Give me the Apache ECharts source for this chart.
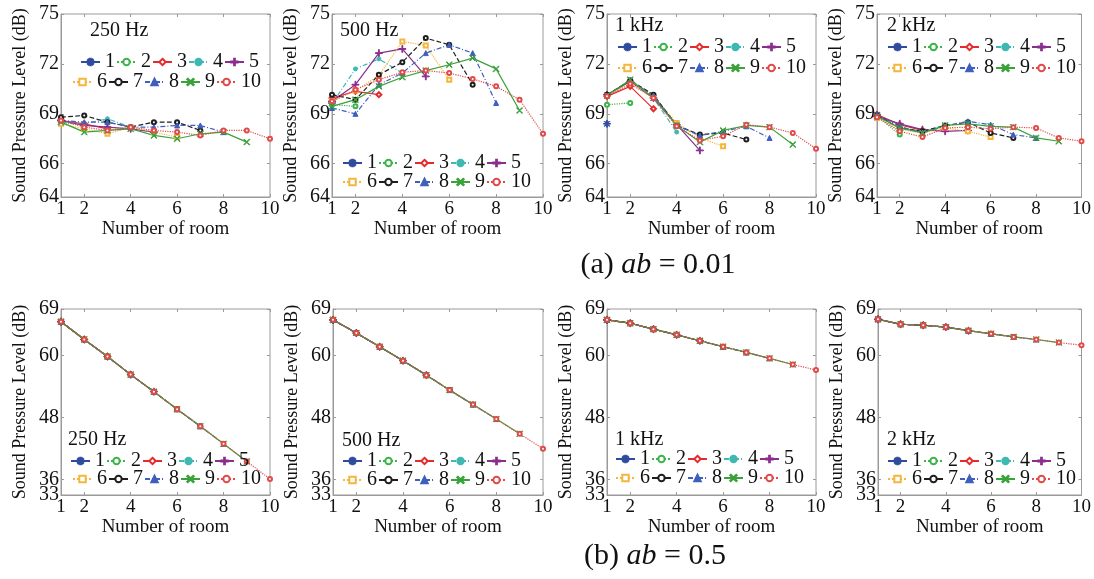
<!DOCTYPE html>
<html>
<head>
<meta charset="utf-8">
<script src="https://cdn.jsdelivr.net/npm/echarts@6/dist/echarts.min.js"></script>
<style>
  html, body { margin: 0; padding: 0; background: #fff; }
  #chart { width: 1094px; height: 579px; }
</style>
</head>
<body>
<div id="chart"></div>
<script>
// Room index on the x axis
const rooms = [1, 2, 3, 4, 5, 6, 7, 8, 9, 10];
const roomTicks = [1, 2, 4, 6, 8, 10];

// Series names: building with N rooms (series N has N points)
const seriesNames = ['1', '2', '3', '4', '5', '6', '7', '8', '9', '10'];

// ab = 0.01 : SPL (dB) per building size, one inner list per series
const a001_250Hz = [
  [68.6],
  [68.5, 68.3],
  [68.6, 68.4, 68.1],
  [68.5, 68.4, 68.7, 68.2],
  [68.6, 68.3, 68.2, 68.1, 67.9],
  [68.4, 68.1, 67.8, 68.2, 67.9, 67.6],
  [68.8, 68.9, 68.5, 68.2, 68.5, 68.5, 68.0],
  [68.6, 68.5, 68.5, 68.2, 68.2, 68.3, 68.3, 67.9],
  [68.5, 67.9, 68.0, 68.1, 67.7, 67.5, 67.8, 67.9, 67.3],
  [68.6, 68.2, 68.0, 68.2, 68.0, 67.9, 67.7, 68.0, 68.0, 67.5]
];
const a001_500Hz = [
  [69.65],
  [69.55, 69.45],
  [69.95, 70.35, 70.15],
  [69.6, 71.7, 72.3, 71.45],
  [69.75, 70.75, 72.65, 72.9, 71.25],
  [69.75, 70.4, 71.3, 73.35, 73.1, 71.05],
  [70.15, 69.85, 71.35, 72.1, 73.55, 73.15, 70.75],
  [69.35, 69.0, 70.75, 71.45, 72.65, 73.15, 72.65, 69.65],
  [69.45, 69.85, 70.65, 71.2, 71.6, 71.95, 72.35, 71.7, 69.2],
  [69.75, 70.45, 71.05, 71.5, 71.6, 71.45, 71.1, 70.65, 69.85, 67.8]
];
const a001_1kHz = [
  [68.4],
  [69.55, 69.65],
  [70.05, 70.65, 69.3],
  [70.15, 70.95, 69.95, 67.9],
  [70.15, 70.95, 69.95, 68.35, 66.8],
  [70.1, 70.9, 70.05, 68.45, 67.55, 67.05],
  [70.15, 71.0, 70.15, 68.3, 67.75, 67.85, 67.45],
  [70.1, 71.0, 70.1, 68.3, 67.7, 67.95, 68.25, 67.55],
  [70.1, 71.05, 69.95, 68.3, 67.3, 68.0, 68.3, 68.2, 67.15],
  [70.05, 70.8, 69.95, 68.25, 67.4, 67.65, 68.35, 68.2, 67.85, 66.9]
];
const a001_2kHz = [
  [68.95],
  [68.85, 67.75],
  [68.95, 68.35, 68.0],
  [68.9, 68.15, 67.95, 68.25],
  [68.85, 68.4, 68.05, 67.95, 68.0],
  [68.75, 68.05, 67.85, 68.15, 67.95, 67.6],
  [68.9, 68.15, 67.95, 68.3, 68.5, 67.85, 67.55],
  [68.95, 68.25, 67.85, 68.25, 68.55, 68.35, 67.75, 67.55],
  [68.85, 68.15, 67.85, 68.3, 68.4, 68.25, 68.2, 67.55, 67.35],
  [68.8, 67.95, 67.6, 68.15, 68.2, 68.1, 68.2, 68.15, 67.55, 67.35]
];

// ab = 0.5 : all building sizes give the same SPL per room
const b05_250Hz = [66.55, 63.1, 59.8, 56.3, 53.0, 49.6, 46.3, 42.9, 39.5, 36.1];
const b05_500Hz = [66.9, 64.35, 61.7, 59.0, 56.2, 53.3, 50.5, 47.7, 44.85, 41.95];
const b05_1kHz = [66.9, 66.25, 65.1, 64.0, 62.85, 61.7, 60.6, 59.45, 58.25, 57.2];
const b05_2kHz = [67.0, 66.05, 65.85, 65.5, 64.8, 64.2, 63.6, 63.1, 62.5, 62.0];

// Y axis ranges and tick labels
const yTicksA = [64, 66, 69, 72, 75];
const yTicksB = [33, 36, 48, 60, 69];

const bandLabels = ['250 Hz', '500 Hz', '1 kHz', '2 kHz'];

// ---- styles ----
const STAR = 'path://M4.55,0H5.45V3.9L8.3,1.05L8.95,1.7L6.1,4.55H10V5.45H6.1L8.95,8.3L8.3,8.95L5.45,6.1V10H4.55V6.1L1.7,8.95L1.05,8.3L3.9,5.45H0V4.55H3.9L1.05,1.7L1.7,1.05L4.55,3.9Z';
const PLUS = 'path://M4.4,0H5.6V4.4H10V5.6H5.6V10H4.4V5.6H0V4.4H4.4Z';
const CROSS = 'path://M0.8,0L5,4.2L9.2,0L10,0.8L5.8,5L10,9.2L9.2,10L5,5.8L0.8,10L0,9.2L4.2,5L0,0.8Z';
const seriesStyle = [
  { color: '#2f4b9e', type: 'solid', symbol: STAR, size: 7 },
  { color: '#3cb44b', type: 'dotted', symbol: 'emptyCircle', size: 4 },
  { color: '#e52b2b', type: 'solid', symbol: 'emptyDiamond', size: 5 },
  { color: '#3fb8b3', type: [5, 2, 1, 2], symbol: 'circle', size: 4 },
  { color: '#8b2d8f', type: 'solid', symbol: PLUS, size: 7 },
  { color: '#f4b63c', type: 'dotted', symbol: 'emptyRect', size: 4 },
  { color: '#1e1e1e', type: 'dashed', symbol: 'emptyCircle', size: 4 },
  { color: '#3f5fbf', type: [5, 2, 1, 2], symbol: 'triangle', size: 5 },
  { color: '#3aa23a', type: 'solid', symbol: CROSS, size: 6 },
  { color: '#e24a4a', type: 'dotted', symbol: 'emptyCircle', size: 4 }
];

const FONT = 'Liberation Serif';
const TEXT = '#111';
const AXIS_GRAY = '#9a9a9a';

// Panel layout: [left, top, width, height]; labelsAlt are labels set on a second
// overlaid axis so that close neighbours are both kept
const panels = [
  { box: [61, 14, 209, 183], ticks: yTicksA, labels: yTicksA, labelsAlt: [], series: a001_250Hz },
  { box: [332, 14, 211, 183], ticks: yTicksA, labels: yTicksA, labelsAlt: [], series: a001_500Hz },
  { box: [607, 14, 209, 183], ticks: yTicksA, labels: yTicksA, labelsAlt: [], series: a001_1kHz },
  { box: [877, 14, 212, 183], ticks: yTicksA, labels: yTicksA, labelsAlt: [], series: a001_2kHz },
  { box: [61, 309, 209, 186], ticks: yTicksB, labels: [33, 48, 60, 69], labelsAlt: [36], series: seriesNames.map((_, k) => b05_250Hz.slice(0, k + 1)) },
  { box: [333, 309, 210, 186], ticks: yTicksB, labels: [33, 48, 60, 69], labelsAlt: [36], series: seriesNames.map((_, k) => b05_500Hz.slice(0, k + 1)) },
  { box: [607, 309, 209, 186], ticks: yTicksB, labels: [33, 48, 60, 69], labelsAlt: [36], series: seriesNames.map((_, k) => b05_1kHz.slice(0, k + 1)) },
  { box: [878, 309, 211, 186], ticks: yTicksB, labels: [33, 48, 60, 69], labelsAlt: [36], series: seriesNames.map((_, k) => b05_2kHz.slice(0, k + 1)) }
];

// Legend rows [row1 left, row1 centre y, row2 left, row2 centre y] and band label [left, centre y]
const legendPos = [
  [80, 62, 72, 82], [342, 163, 342, 182], [617, 47, 617, 68], [887, 47, 887, 68],
  [70, 461, 72, 479], [342, 461, 342, 480], [615, 459, 615, 478], [887, 461, 887, 479]
];
const bandPos = [
  [90, 32], [340, 32], [615, 27], [887, 27],
  [68, 441], [342, 442], [615, 441], [887, 441]
];

const grid = [], xAxis = [], yAxis = [], series = [], legend = [], graphic = [];
const labelStyle = { fontFamily: FONT, fontSize: 20, color: TEXT, hideOverlap: false, showMinLabel: true, showMaxLabel: true };

panels.forEach((p, i) => {
  const [l, t, w, h] = p.box;
  grid.push({ left: l, top: t, width: w, height: h, show: true, borderColor: AXIS_GRAY, borderWidth: 1, backgroundColor: 'transparent' });
  const yMin = p.ticks[0], yMax = p.ticks[p.ticks.length - 1];

  // bottom x axis with labels
  const xIndex = xAxis.length;
  xAxis.push({
    type: 'value', gridIndex: i, min: 1, max: 10, position: 'bottom',
    name: 'Number of room', nameLocation: 'middle', nameGap: 23,
    nameTextStyle: { fontFamily: FONT, fontSize: 19, color: TEXT },
    axisLine: { show: true, lineStyle: { color: AXIS_GRAY } },
    axisTick: { show: true, inside: true, length: 3, customValues: roomTicks, lineStyle: { color: AXIS_GRAY } },
    axisLabel: Object.assign({ customValues: roomTicks, margin: 3 }, labelStyle, { fontSize: 19 }),
    splitLine: { show: false }
  });
  // top x axis: mirrored ticks only
  xAxis.push({
    type: 'value', gridIndex: i, min: 1, max: 10, position: 'top',
    axisLine: { show: false },
    axisTick: { show: true, inside: true, length: 3, customValues: roomTicks, lineStyle: { color: AXIS_GRAY } },
    axisLabel: { show: false },
    splitLine: { show: false }
  });

  const yIndex = yAxis.length;
  yAxis.push({
    type: 'value', gridIndex: i, min: yMin, max: yMax, position: 'left',
    name: 'Sound Pressure Level (dB)', nameLocation: 'middle', nameGap: 32, nameRotate: 90,
    nameTextStyle: { fontFamily: FONT, fontSize: 18, color: TEXT },
    axisLine: { show: true, lineStyle: { color: AXIS_GRAY } },
    axisTick: { show: true, inside: true, length: 3, customValues: p.ticks, lineStyle: { color: AXIS_GRAY } },
    axisLabel: Object.assign({ customValues: p.labels, margin: 2 }, labelStyle),
    splitLine: { show: false }
  });
  // right y axis: mirrored ticks only
  yAxis.push({
    type: 'value', gridIndex: i, min: yMin, max: yMax, position: 'right',
    axisLine: { show: false },
    axisTick: { show: true, inside: true, length: 3, customValues: p.ticks, lineStyle: { color: AXIS_GRAY } },
    axisLabel: { show: false },
    splitLine: { show: false }
  });
  if (p.labelsAlt.length) {
    yAxis.push({
      type: 'value', gridIndex: i, min: yMin, max: yMax, position: 'left', offset: 0,
      axisLine: { show: false }, axisTick: { show: false },
      axisLabel: Object.assign({ customValues: p.labelsAlt, margin: 2 }, labelStyle),
      splitLine: { show: false }
    });
  }

  p.series.forEach((vals, k) => {
    const st = seriesStyle[k];
    series.push({
      type: 'line', name: seriesNames[k],
      xAxisIndex: xIndex, yAxisIndex: yIndex,
      data: vals.map((v, j) => [rooms[j], v]),
      symbol: st.symbol, symbolSize: st.size, showSymbol: true,
      lineStyle: { color: st.color, width: 1.2, type: st.type },
      itemStyle: { color: st.color, borderColor: st.color, borderWidth: 1 },
      emphasis: { disabled: true },
      animation: false
    });
  });

  const lp = legendPos[i];
  const legendBase = {
    orient: 'horizontal', itemWidth: 19, itemHeight: 8, itemGap: 1, padding: 0,
    textStyle: { fontFamily: FONT, fontSize: 20, color: TEXT, lineHeight: 20 },
    selectedMode: false
  };
  legend.push(Object.assign({}, legendBase, { left: lp[0], top: lp[1] - 10, data: seriesNames.slice(0, 5) }));
  legend.push(Object.assign({}, legendBase, { left: lp[2], top: lp[3] - 10, data: seriesNames.slice(5) }));

  const bp = bandPos[i];
  graphic.push({
    type: 'text', left: bp[0], top: bp[1] - 11,
    style: { text: bandLabels[i % 4], fontFamily: FONT, fontSize: 20, fill: TEXT }
  });
});

// Sub-figure captions
const captionRich = {
  n: { fontFamily: FONT, fontSize: 30, fill: TEXT },
  i: { fontFamily: FONT, fontSize: 30, fontStyle: 'italic', fill: TEXT }
};
graphic.push({
  type: 'text', x: 658, y: 265,
  style: { text: '{n|(a) }{i|ab}{n| = 0.01}', rich: captionRich, align: 'center', verticalAlign: 'middle' }
});
graphic.push({
  type: 'text', x: 655, y: 556,
  style: { text: '{n|(b) }{i|ab}{n| = 0.5}', rich: captionRich, align: 'center', verticalAlign: 'middle' }
});

const chart = echarts.init(document.getElementById('chart'), null, { renderer: 'canvas' });
chart.setOption({
  backgroundColor: '#fff',
  animation: false,
  grid, xAxis, yAxis, series, legend, graphic
});
</script>
</body>
</html>
